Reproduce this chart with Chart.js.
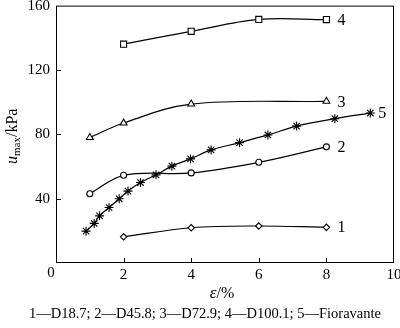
<!DOCTYPE html>
<html>
<head>
<meta charset="utf-8">
<script src="https://cdn.jsdelivr.net/npm/chart.js@4.4.1/dist/chart.umd.min.js"></script>
<style>
  body { margin: 0; background: #fff; }
  #wrap { width: 400px; height: 328px; }
</style>
</head>
<body>
<div id="wrap"><canvas id="chart" width="400" height="328"></canvas></div>
<script>
// values (strain %, max load kPa)
const seriesLabels = ['1', '2', '3', '4', '5'];
const caption = '1\u2014D18.7; 2\u2014D45.8; 3\u2014D72.9; 4\u2014D100.1; 5\u2014Fioravante';
const xTicks = [0, 2, 4, 6, 8, 10];
const yTicks = [0, 40, 80, 120, 160];

const strain1 = [2, 4, 6, 8];
const load1 = [16.3, 21.9, 23, 22.2];
const strain2 = [1, 2, 4, 6, 8];
const load2 = [43, 54.5, 56, 62.6, 72.2];
const strain3 = [1, 2, 4, 8];
const load3 = [78, 87, 98.8, 100.5];
const strain4 = [2, 4, 6, 8];
const load4 = [136, 144, 151.4, 151.3];
const strain5 = [0.89, 1.13, 1.29, 1.57, 1.87, 2.13, 2.5, 2.96, 3.43, 3.98, 4.59, 5.43, 6.27, 7.12, 8.25, 9.3];
const load5 = [19.8, 24.6, 29.3, 34.5, 39.9, 44.7, 50, 54.8, 60.2, 64.7, 70.3, 74.8, 79.6, 85.1, 89.7, 93.2];

const serif = 'Liberation Serif';

document.addEventListener('DOMContentLoaded', () => {
    drawChart();
});

function toPoints(xs, ys) {
    return xs.map((x, i) => ({ x: x, y: ys[i] }));
}

function makeSet(label, xs, ys, style, radius) {
    return {
        label: label,
        data: toPoints(xs, ys),
        borderColor: '#000',
        borderWidth: 1.2,
        pointStyle: style,
        pointRadius: radius,
        pointBorderColor: '#000',
        pointBackgroundColor: '#fff',
        pointBorderWidth: 1.1,
        tension: 0.35,
        fill: false
    };
}

const decorPlugin = {
    id: 'decor',
    afterDraw(chart) {
        const { ctx, chartArea: a, scales: { x, y } } = chart;
        ctx.save();
        ctx.strokeStyle = '#000';
        ctx.lineWidth = 1;
        ctx.strokeRect(a.left + 0.5, a.top + 0.5, a.right - a.left - 1, a.bottom - a.top - 1);

        // inward tick marks
        ctx.beginPath();
        xTicks.slice(1, -1).forEach(v => {
            const px = Math.round(x.getPixelForValue(v)) + 0.5;
            ctx.moveTo(px, a.bottom);
            ctx.lineTo(px, a.bottom - 5);
        });
        yTicks.slice(1, -1).forEach(v => {
            const py = Math.round(y.getPixelForValue(v)) + 0.5;
            ctx.moveTo(a.left, py);
            ctx.lineTo(a.left + 5, py);
        });
        ctx.stroke();

        ctx.fillStyle = '#000';
        // shared origin label
        ctx.font = '15px "' + serif + '"';
        ctx.textAlign = 'center';
        ctx.textBaseline = 'top';
        ctx.fillText('0', a.left - 5, a.bottom + 3);

        // series numbers at the end of each curve
        ctx.font = '16px "' + serif + '"';
        ctx.textAlign = 'left';
        ctx.textBaseline = 'middle';
        chart.data.datasets.forEach((ds, i) => {
            const last = ds.data[ds.data.length - 1];
            const off = i === 4 ? 8 : 11;
            ctx.fillText(seriesLabels[i], x.getPixelForValue(last.x) + off, y.getPixelForValue(last.y) + 1);
        });

        // x axis title: ε/%
        const midX = (a.left + a.right) / 2 - 3;
        ctx.textBaseline = 'middle';
        ctx.font = 'italic 17px "' + serif + '"';
        const w1 = ctx.measureText('\u03b5').width;
        ctx.font = '16px "' + serif + '"';
        const w2 = ctx.measureText('/%').width;
        let sx = midX - (w1 + w2) / 2;
        ctx.font = 'italic 17px "' + serif + '"';
        ctx.fillText('\u03b5', sx, 294);
        ctx.font = '16px "' + serif + '"';
        ctx.fillText('/%', sx + w1, 294);

        // caption
        ctx.font = '14.5px "' + serif + '"';
        ctx.textAlign = 'center';
        ctx.fillText(caption, 205, 314);

        // y axis title: u_max/kPa, rotated
        ctx.translate(13, (a.top + a.bottom) / 2 + 2);
        ctx.rotate(-Math.PI / 2);
        ctx.textAlign = 'left';
        ctx.textBaseline = 'middle';
        const parts = [
            { t: 'u', f: 'italic 16px "' + serif + '"', dy: 0 },
            { t: 'max', f: '11px "' + serif + '"', dy: 4 },
            { t: '/kPa', f: '16px "' + serif + '"', dy: 0 }
        ];
        let total = 0;
        parts.forEach(p => { ctx.font = p.f; p.w = ctx.measureText(p.t).width; total += p.w; });
        let tx = -total / 2;
        parts.forEach(p => {
            ctx.font = p.f;
            ctx.fillText(p.t, tx, p.dy);
            tx += p.w;
        });
        ctx.restore();
    }
};

function drawChart() {
    const ctx = document.getElementById('chart').getContext('2d');
    new Chart(ctx, {
        type: 'line',
        data: {
            datasets: [
                makeSet(seriesLabels[0], strain1, load1, 'rectRot', 3.2),
                makeSet(seriesLabels[1], strain2, load2, 'circle', 3),
                makeSet(seriesLabels[2], strain3, load3, 'triangle', 4),
                makeSet(seriesLabels[3], strain4, load4, 'rect', 4.3),
                makeSet(seriesLabels[4], strain5, load5, 'star', 4.5)
            ]
        },
        options: {
            responsive: false,
            animation: false,
            layout: { padding: { top: 5, right: 6, left: 0, bottom: 0 } },
            plugins: {
                legend: { display: false },
                tooltip: { enabled: false }
            },
            scales: {
                x: {
                    type: 'linear',
                    min: 0,
                    max: 10,
                    afterBuildTicks: scale => { scale.ticks = xTicks.map(v => ({ value: v })); },
                    afterFit: scale => {
                        scale.height = 65;
                        scale.paddingLeft = 0;
                        scale.paddingRight = 0;
                    },
                    grid: { display: false, drawTicks: false },
                    border: { display: false },
                    ticks: {
                        padding: 3,
                        color: '#000',
                        font: { family: serif, size: 15 },
                        maxRotation: 0,
                        callback: v => (v === 0 ? '' : v)
                    }
                },
                y: {
                    min: 0,
                    max: 160,
                    afterBuildTicks: scale => { scale.ticks = yTicks.map(v => ({ value: v })); },
                    afterFit: scale => {
                        scale.width = 56;
                        scale.paddingTop = 0;
                        scale.paddingBottom = 0;
                    },
                    grid: { display: false, drawTicks: false },
                    border: { display: false },
                    ticks: {
                        padding: 6,
                        color: '#000',
                        font: { family: serif, size: 15 },
                        callback: v => (v === 0 ? '' : v)
                    }
                }
            }
        },
        plugins: [decorPlugin]
    });
}
</script>
</body>
</html>
